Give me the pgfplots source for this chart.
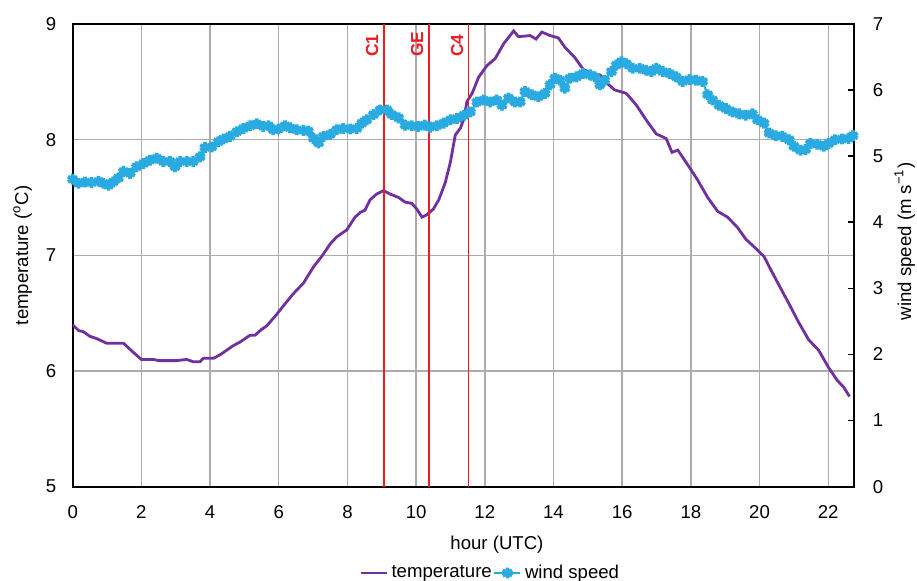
\documentclass[border=0pt]{standalone}
\usepackage{fontspec}
\setmainfont{Liberation Sans}
\usepackage{pgfplots}
\pgfplotsset{compat=1.18}
\definecolor{tempc}{RGB}{112,48,160}
\definecolor{windc}{RGB}{41,171,226}
\definecolor{gridc}{RGB}{175,170,175}
\definecolor{redc}{RGB}{237,28,36}
\begin{document}
\begin{tikzpicture}
\pgfplotsset{
  every axis/.append style={font=\fontsize{9.3}{11}\selectfont},
  /pgf/number format/assume math mode=true,
}
\begin{axis}[
  name=ax,
  scale only axis, width=390.65pt, height=231.35pt,
  xmin=0, xmax=22.75, ymin=5, ymax=9,
  xtick={0,2,...,22}, ytick={5,6,7,8,9},
  grid=major, major grid style={gridc, line width=0.7pt},
  major tick length=0pt,
  axis line style={black, line width=1pt},
  yticklabel style={xshift=-4.7pt},
  xticklabel style={yshift=-6pt},
  xlabel={hour (UTC)},
  xlabel style={at={(axis description cs:0.543,-0.1347)}, anchor=base},
  ylabel={temperature (\textsuperscript{o}C)},
  ylabel style={at={(axis description cs:-0.0572,0.5)}, anchor=base, rotate=0},
]
\addplot[tempc, line width=1.4pt] coordinates {
(0,6.40) (0.17,6.35) (0.31,6.34) (0.5,6.30) (0.7,6.28) (0.99,6.24) (1.48,6.24)
(1.77,6.16) (2.0,6.10) (2.35,6.10) (2.5,6.09) (3.03,6.09) (3.32,6.10) (3.51,6.08)
(3.71,6.08) (3.8,6.11) (4.1,6.11) (4.29,6.14) (4.68,6.22) (4.87,6.25) (5.17,6.31)
(5.31,6.31) (5.5,6.36) (5.65,6.39) (5.94,6.49) (6.18,6.58) (6.43,6.67) (6.72,6.76)
(7.01,6.90) (7.25,6.99) (7.5,7.10) (7.69,7.16) (7.98,7.22) (8.22,7.33) (8.37,7.37)
(8.51,7.39) (8.66,7.48) (8.85,7.53) (9.05,7.56) (9.24,7.53) (9.49,7.50) (9.68,7.46)
(9.87,7.45) (10.02,7.40) (10.17,7.33) (10.31,7.35) (10.5,7.40) (10.66,7.48) (10.85,7.63)
(11.0,7.81) (11.14,8.04) (11.29,8.10) (11.39,8.18) (11.48,8.33) (11.63,8.40) (11.82,8.54)
(12.06,8.64) (12.3,8.70) (12.55,8.83) (12.84,8.94) (12.98,8.89) (13.32,8.90) (13.49,8.87)
(13.66,8.93) (13.9,8.90) (14.14,8.88) (14.33,8.80) (14.62,8.71) (14.86,8.61) (15.1,8.57)
(15.35,8.56) (15.59,8.48) (15.78,8.43) (16.12,8.40) (16.41,8.30) (16.7,8.17) (16.99,8.05)
(17.28,8.01) (17.45,7.89) (17.62,7.91) (17.96,7.76) (18.2,7.65) (18.49,7.50) (18.78,7.38)
(19.07,7.33) (19.36,7.24) (19.6,7.14) (19.89,7.06) (20.13,6.99) (20.32,6.88) (20.66,6.69)
(20.86,6.58) (21.14,6.42) (21.43,6.27) (21.72,6.18) (22.01,6.03) (22.26,5.92) (22.45,5.86)
(22.62,5.78)
};
\end{axis}
\begin{axis}[
  scale only axis, width=390.65pt, height=231.35pt,
  xmin=0, xmax=22.75, ymin=0, ymax=7,
  axis x line=none, axis y line*=right,
  ytick={0,1,...,7},
  tick align=inside, major tick length=3pt,
  tick style={black, line width=0.8pt},
  axis line style={black, line width=1.2pt},
  yticklabel style={xshift=5.9pt},
  ylabel={wind speed (m s\textsuperscript{−1})},
  ylabel style={at={(axis description cs:1.073,0.53)}, anchor=base, rotate=0},
  legend style={draw=none, fill=none, at={(axis description cs:0.534,-0.1865)}, anchor=center,
    legend columns=2, font=\fontsize{9.3}{11}\selectfont,
    nodes={inner sep=0.8pt},
    /tikz/every odd column/.append style={column sep=1pt}},
  legend image code/.code={\draw[mark repeat=2,mark phase=2,#1] plot coordinates {(0pt,0pt) (6.5pt,0pt) (13pt,0pt)};},
]
\addlegendimage{tempc, line width=1.4pt}
\addlegendentry{temperature}
\addplot[windc, line width=1pt, mark=asterisk, mark size=2.7pt, mark options={line width=1.9pt}] coordinates {
(0,4.65) (0.17,4.59) (0.36,4.61) (0.55,4.60) (0.75,4.62) (0.89,4.59) (1.04,4.56)
(1.18,4.61) (1.33,4.67) (1.48,4.77) (1.67,4.74) (1.86,4.84) (2.06,4.89) (2.25,4.94)
(2.45,4.97) (2.64,4.92) (2.83,4.92) (2.98,4.84) (3.13,4.92) (3.32,4.92) (3.51,4.92)
(3.71,4.99) (3.85,5.13) (4.05,5.14) (4.24,5.22) (4.39,5.26) (4.58,5.30) (4.78,5.37)
(4.97,5.42) (5.17,5.46) (5.36,5.49) (5.55,5.45) (5.7,5.46) (5.84,5.40) (5.99,5.41)
(6.18,5.46) (6.33,5.43) (6.52,5.40) (6.72,5.39) (6.86,5.38) (7.01,5.27) (7.16,5.20)
(7.3,5.30) (7.5,5.33) (7.69,5.40) (7.88,5.42) (8.08,5.41) (8.27,5.42) (8.42,5.50)
(8.56,5.55) (8.76,5.63) (8.95,5.70) (9.15,5.70) (9.29,5.63) (9.49,5.58) (9.68,5.47)
(9.87,5.46) (10.06,5.45) (10.25,5.47) (10.4,5.44) (10.6,5.46) (10.8,5.50) (11.0,5.55)
(11.19,5.57) (11.39,5.62) (11.58,5.67) (11.77,5.82) (11.97,5.85) (12.16,5.82) (12.35,5.85)
(12.5,5.77) (12.69,5.88) (12.88,5.82) (13.03,5.82) (13.17,5.98) (13.37,5.93) (13.56,5.90)
(13.75,5.95) (13.9,6.08) (14.04,6.18) (14.19,6.15) (14.33,6.03) (14.48,6.18) (14.67,6.20)
(14.86,6.25) (15.06,6.23) (15.2,6.20) (15.35,6.08) (15.49,6.15) (15.69,6.28) (15.83,6.38)
(15.98,6.43) (16.12,6.40) (16.31,6.33) (16.51,6.33) (16.7,6.30) (16.85,6.28) (16.99,6.33)
(17.18,6.28) (17.38,6.25) (17.57,6.20) (17.76,6.13) (17.96,6.16) (18.15,6.15) (18.34,6.13)
(18.49,5.93) (18.63,5.85) (18.82,5.77) (19.02,5.72) (19.21,5.67) (19.41,5.64) (19.6,5.62)
(19.79,5.64) (19.94,5.55) (20.13,5.50) (20.28,5.35) (20.47,5.31) (20.66,5.30) (20.86,5.25)
(21.0,5.15) (21.19,5.09) (21.34,5.10) (21.48,5.19) (21.68,5.18) (21.87,5.15) (22.01,5.19)
(22.2,5.25) (22.4,5.26) (22.59,5.27) (22.72,5.31)
};
\addlegendentry{wind speed}
\addplot[redc, line width=0.7pt, forget plot] coordinates {(9.06,0) (9.06,7)};
\addplot[redc, line width=0.7pt, forget plot] coordinates {(10.37,0) (10.37,7)};
\addplot[redc, line width=0.7pt, forget plot] coordinates {(11.53,0) (11.53,7)};
\node[rotate=90, anchor=base west, inner sep=0pt, text=redc, font=\fontsize{8.7}{10}\selectfont\bfseries] at ([shift={(-2.8pt,-16.5pt)}]axis cs:9.06,7) {C1};
\node[rotate=90, anchor=base west, inner sep=0pt, text=redc, font=\fontsize{8.7}{10}\selectfont\bfseries] at ([shift={(-2.8pt,-16.5pt)}]axis cs:10.37,7) {GE};
\node[rotate=90, anchor=base west, inner sep=0pt, text=redc, font=\fontsize{8.7}{10}\selectfont\bfseries] at ([shift={(-2.8pt,-16.5pt)}]axis cs:11.53,7) {C4};
\end{axis}
\pgfresetboundingbox
\path ([shift={(-36.35pt,-47.15pt)}]ax.south west) rectangle ([shift={(31.5pt,12pt)}]ax.north east);
\end{tikzpicture}
\end{document}
